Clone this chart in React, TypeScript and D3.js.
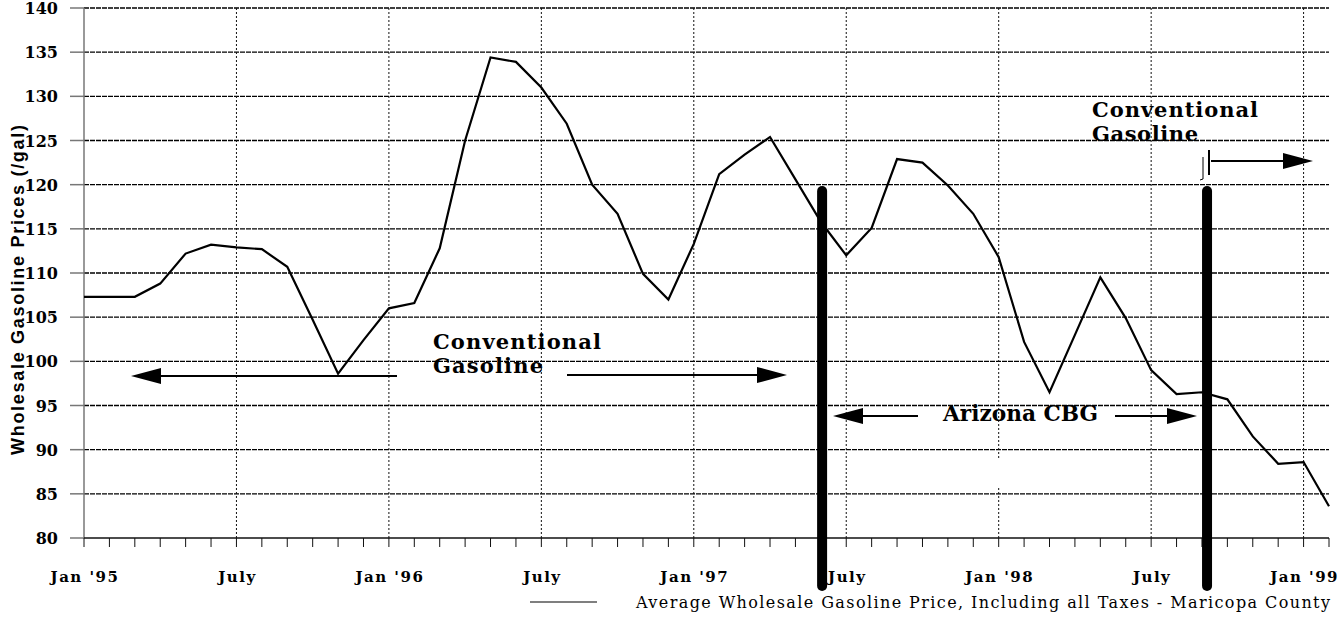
// App.tsx
import React, { useEffect, useRef } from 'react'
import * as d3 from 'd3'

// monthly index 0 = Jan '95 ... 49 = Feb '99
var prices = [107.3, 107.3, 107.3, 108.8, 112.2, 113.2, 112.9, 112.7, 110.7, 104.7,
  98.6, 102.4, 106.0, 106.6, 112.8, 125.0, 134.4, 133.9, 131.0, 126.9,
  120.0, 116.7, 109.9, 107.0, 113.3, 121.2, 123.4, 125.4, 120.6, 115.8,
  112.0, 115.1, 122.9, 122.5, 119.9, 116.7, 111.8, 102.2, 96.5, 103.0,
  109.5, 104.9, 99.0, 96.3, 96.5, 95.7, 91.5, 88.4, 88.6, 83.6];

var xTickMonths = [0, 6, 12, 18, 24, 30, 36, 42, 48];
var xTickLabels = ["Jan '95", "July", "Jan '96", "July", "Jan '97", "July", "Jan '98", "July", "Jan '99"];
var yTicks = [80, 85, 90, 95, 100, 105, 110, 115, 120, 125, 130, 135, 140];

// regime boundaries (month index) for the thick bars
var boundaries = [29.05, 44.2];

var serif = "'DejaVu Serif', serif";
var sans = "'Liberation Sans', Arial, sans-serif";

function drawChart(node: SVGSVGElement) {
  var svg = d3.select(node);
  svg.selectAll("*").remove();

  var x = d3.scaleLinear().domain([0, 49]).range([84, 1329]);
  var y = d3.scaleLinear().domain([80, 140]).range([538, 8]);

  // horizontal grid
  svg.append("g").selectAll("line")
    .data(yTicks.filter(function (d) { return d > 80; }))
    .enter().append("line")
    .attr("x1", 84).attr("x2", 1329)
    .attr("y1", function (d) { return y(d); })
    .attr("y2", function (d) { return y(d); })
    .attr("stroke", "#000").attr("stroke-width", 1.3)
    .attr("stroke-dasharray", "5,1");

  // vertical grid (every 6 months)
  svg.append("g").selectAll("line")
    .data(xTickMonths.slice(1))
    .enter().append("line")
    .attr("x1", function (d) { return x(d); })
    .attr("x2", function (d) { return x(d); })
    .attr("y1", 8).attr("y2", 538)
    .attr("stroke", "#111").attr("stroke-width", 1)
    .attr("stroke-dasharray", "2,2");

  // little gap in the Jan '98 gridline
  svg.append("rect").attr("x", x(36) - 2).attr("y", 458).attr("width", 4).attr("height", 30).attr("fill", "white");

  // y axis
  svg.append("line").attr("x1", 84).attr("x2", 84).attr("y1", 8).attr("y2", 538)
    .attr("stroke", "#777").attr("stroke-width", 1.5);
  svg.append("g").selectAll("line")
    .data(yTicks)
    .enter().append("line")
    .attr("x1", 70).attr("x2", 84)
    .attr("y1", function (d) { return y(d); })
    .attr("y2", function (d) { return y(d); })
    .attr("stroke", "#777").attr("stroke-width", 1.5);
  svg.append("g").selectAll("text")
    .data(yTicks)
    .enter().append("text")
    .attr("x", 58)
    .attr("y", function (d) { return y(d) + 6; })
    .attr("text-anchor", "end")
    .style("font-family", serif).style("font-weight", "bold").style("font-size", "16px")
    .text(function (d) { return d; });

  svg.append("text")
    .attr("transform", "translate(24,290) rotate(-90)")
    .attr("text-anchor", "middle")
    .style("font-family", sans).style("font-weight", "bold").style("font-size", "18px")
    .attr("textLength", 330).attr("lengthAdjust", "spacing")
    .text("Wholesale Gasoline Prices (/gal)");

  // x axis
  svg.append("line").attr("x1", 84).attr("x2", 1329).attr("y1", 538).attr("y2", 538)
    .attr("stroke", "#111").attr("stroke-width", 1.5);
  svg.append("g").selectAll("line")
    .data(d3.range(0, 50))
    .enter().append("line")
    .attr("x1", function (d) { return x(d); })
    .attr("x2", function (d) { return x(d); })
    .attr("y1", 538).attr("y2", 547)
    .attr("stroke", "#111").attr("stroke-width", 1);
  svg.append("g").selectAll("text")
    .data(xTickMonths)
    .enter().append("text")
    .attr("x", function (d) { return x(d) + 1; })
    .attr("y", 582)
    .attr("text-anchor", "middle")
    .style("font-family", serif).style("font-weight", "bold").style("font-size", "15px")
    .style("letter-spacing", "1.5px")
    .text(function (d, i) { return xTickLabels[i]; });

  // price line
  var line = d3.line<number>()
    .x(function (d, i) { return x(i); })
    .y(function (d) { return y(d); });
  svg.append("path")
    .datum(prices)
    .attr("d", line)
    .attr("fill", "none")
    .attr("stroke", "#000")
    .attr("stroke-width", 2.2)
    .attr("stroke-linejoin", "miter");

  // thick regime bars
  svg.append("g").selectAll("line")
    .data(boundaries)
    .enter().append("line")
    .attr("x1", function (d) { return x(d); })
    .attr("x2", function (d) { return x(d); })
    .attr("y1", 191).attr("y2", 586)
    .attr("stroke", "#000").attr("stroke-width", 10)
    .attr("stroke-linecap", "round");

  function arrow(x1: number, x2: number, yy: number) {
    var dir = x2 > x1 ? 1 : -1;
    var base = x2 - dir * 30;
    svg.append("line").attr("x1", x1).attr("x2", base).attr("y1", yy).attr("y2", yy)
      .attr("stroke", "#000").attr("stroke-width", 2.2);
    svg.append("path")
      .attr("d", "M" + x2 + "," + yy + "L" + base + "," + (yy - 8) + "L" + base + "," + (yy + 8) + "Z")
      .attr("fill", "#000");
  }

  function label(lines: string[], lx: number, ly: number, size: number, widths: number[]) {
    lines.forEach(function (t, i) {
      svg.append("text")
        .attr("x", lx).attr("y", ly + i * 24)
        .style("font-family", serif).style("font-weight", "bold").style("font-size", size + "px")
        .attr("textLength", widths[i]).attr("lengthAdjust", "spacing")
        .text(t);
    });
  }

  label(["Conventional", "Gasoline"], 433, 349, 21, [168, 110]);
  arrow(397, 131, 376);
  arrow(567, 787, 375);

  svg.append("text")
    .attr("x", 943).attr("y", 421)
    .style("font-family", serif).style("font-weight", "bold").style("font-size", "22px")
    .attr("textLength", 155).attr("lengthAdjust", "spacingAndGlyphs")
    .text("Arizona CBG");
  arrow(918, 833, 416);
  arrow(1115, 1197, 416);

  label(["Conventional", "Gasoline"], 1092, 117, 21, [166, 106]);
  svg.append("line").attr("x1", 1209).attr("x2", 1209).attr("y1", 150).attr("y2", 175)
    .attr("stroke", "#000").attr("stroke-width", 2);
  arrow(1211, 1313, 161);
  svg.append("path")
    .attr("d", "M1203,157L1203,179L1200,180")
    .attr("fill", "none").attr("stroke", "#000").attr("stroke-width", 1);

  // legend
  svg.append("line").attr("x1", 530).attr("x2", 597).attr("y1", 602).attr("y2", 602)
    .attr("stroke", "#000").attr("stroke-width", 1.2);
  svg.append("text")
    .attr("x", 636).attr("y", 608)
    .style("font-family", serif).style("font-size", "16px")
    .attr("textLength", 694).attr("lengthAdjust", "spacing")
    .text("Average Wholesale Gasoline Price, Including all Taxes - Maricopa County");
}

export default function App() {
  var ref = useRef<SVGSVGElement>(null);

  useEffect(function () {
    document.body.style.margin = "0";
    if (ref.current) drawChart(ref.current);
  }, []);

  return (
    <svg ref={ref} width={1343} height={640} style={{ display: "block", background: "white" }} />
  );
}
